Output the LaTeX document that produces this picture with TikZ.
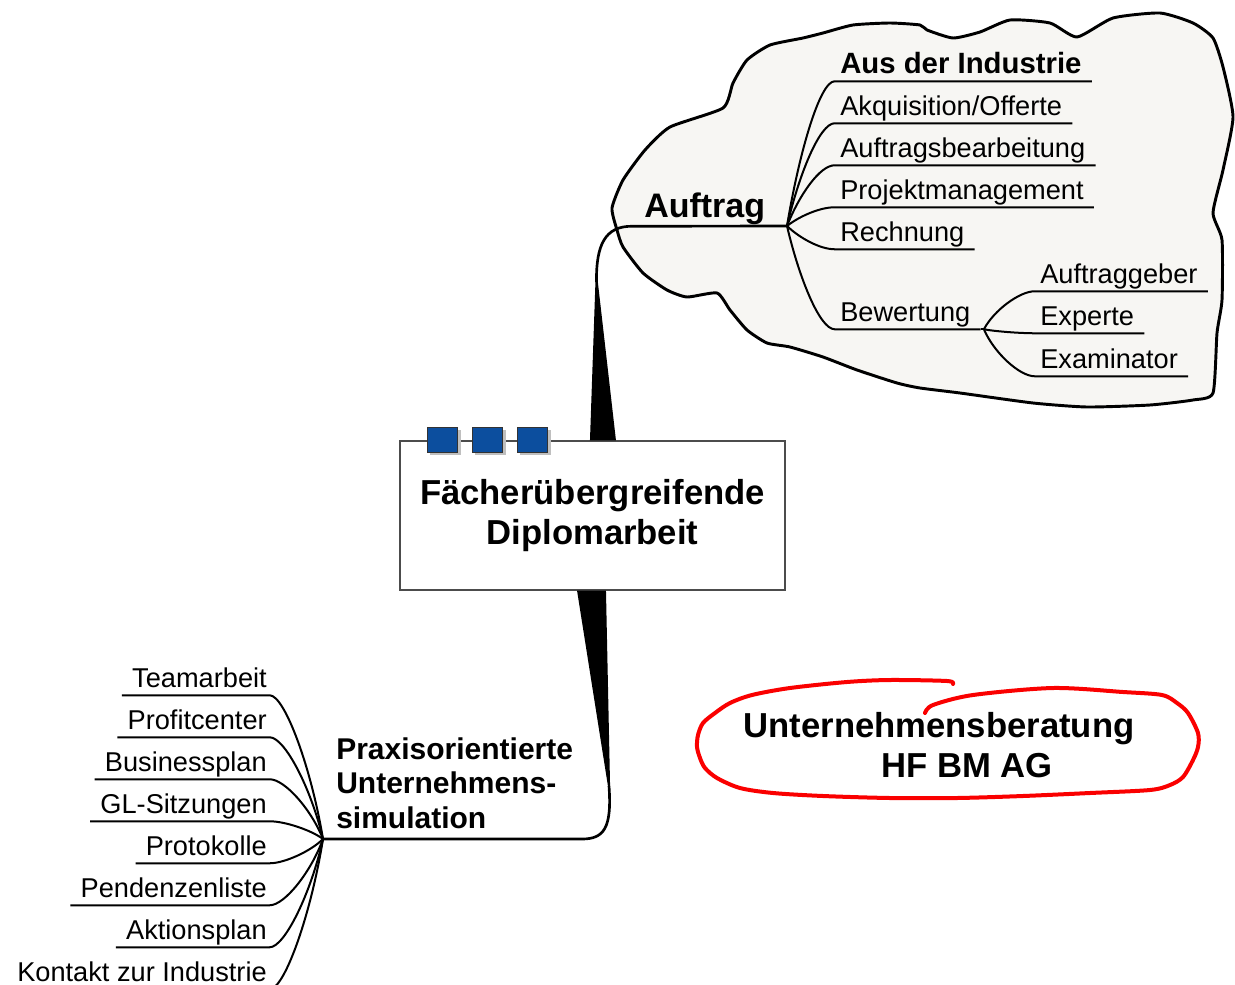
\documentclass[tikz,border=0pt]{standalone}
\usepackage{fontspec}
\setmainfont{Liberation Sans}
\usetikzlibrary{shadows}

\definecolor{cloudgray}{RGB}{247,246,243}
\definecolor{tabblue}{RGB}{12,78,158}
\definecolor{markred}{RGB}{250,0,0}

\tikzset{
  leaf/.style={inner sep=0pt, text depth=6pt, font=\fontsize{20.4}{24}\selectfont},
  branch/.style={line width=1.5pt},
  stem/.style={line width=2pt},
  tab/.style={draw=black!80, fill=tabblue, line width=0.6pt, minimum width=23pt,
    minimum height=18.75pt, inner sep=0pt,
    drop shadow={shadow xshift=2.2pt, shadow yshift=-2.2pt, fill=black!25, opacity=1}},
}

\begin{document}
\begin{tikzpicture}[x=0.75pt, y=-0.75pt]
\useasboundingbox (0,0) rectangle (1235,985);

% cloud around Auftrag
\filldraw[fill=cloudgray, line width=2.2pt, line join=round]
  plot[smooth cycle, tension=0.35] coordinates {
  (612,208) (623,180) (645,150) (670,127) (723,108) (733,83) (747,60) (770,45)
  (803,38) (823,33) (853,25) (890,23) (920,25) (927,30) (953,38) (980,32)
  (1010,20) (1050,23) (1077,37) (1113,18) (1160,13) (1193,23) (1213,38)
  (1223,67) (1233,117) (1223,170) (1213,213) (1222,240) (1222,300) (1217,333)
  (1213,393) (1193,400) (1150,405) (1087,407) (1033,403) (960,393) (920,388)
  (897,383) (857,370) (823,357) (790,347) (767,343) (747,330) (730,310)
  (717,293) (687,297) (667,290) (643,273) (623,247) (617,230)};

% central topic
\node[draw=black!70, fill=white, line width=0.8pt, minimum width=288.75pt,
  minimum height=111.75pt, align=center,
  font=\fontsize{26}{30}\selectfont\bfseries] (fdm) at (592.5,515.5)
  {Fächerübergreifende\\Diplomarbeit};
\node[tab] (tab1) at (442.5,440) {};
\node[tab] (tab2) at (487.5,440) {};
\node[tab] (tab3) at (532.5,440) {};

% Auftrag branch
\node[inner sep=0pt, text depth=6.75pt, anchor=base west,
  font=\fontsize{25.5}{30}\selectfont\bfseries] (auftrag) at (644,217) {Auftrag};
\coordinate (hubR) at (787,226);
\coordinate (up) at (596.5,282);
\fill ([xshift=-1.9pt]fdm.north) -- ([xshift=-0.8pt]up) -- ([xshift=1pt]up)
  -- ([xshift=17.6pt]fdm.north) -- cycle;
\draw[stem] (up) .. controls (596,245) and (605,226) .. ([xshift=-9pt]auftrag.south west) -- (hubR);

\node[leaf, anchor=base west, font=\fontsize{22}{26}\selectfont\bfseries] (aus) at (840,73) {Aus der Industrie};
\node[leaf, anchor=base west] (akq) at (840,115) {Akquisition/Offerte};
\node[leaf, anchor=base west] (abb) at (840,157) {Auftragsbearbeitung};
\node[leaf, anchor=base west] (pm) at (840,199) {Projektmanagement};
\node[leaf, anchor=base west] (rech) at (840,241) {Rechnung};
\node[leaf, anchor=base west] (bew) at (840,321) {Bewertung};
\foreach \n/\dy in {aus/-145, akq/-103, abb/-61, pm/-19, rech/23, bew/103}
  \draw[branch] (hubR) .. controls +(12,0.5*\dy) and +(-15,0) .. ([xshift=-4pt]\n.south west)
    -- ([xshift=7.5pt]\n.south east);

% Bewertung
\coordinate (hubB) at ([xshift=10pt]bew.south east);
\draw[branch] ([xshift=7.5pt]bew.south east) -- (hubB);
\node[leaf, anchor=base west] (ag) at (1040,283) {Auftraggeber};
\node[leaf, anchor=base west] (exp) at (1040,325) {Experte};
\node[leaf, anchor=base west] (exam) at (1040,368) {Examinator};
\foreach \n/\dy in {ag/-38, exp/4, exam/47}
  \draw[branch] (hubB) .. controls +(10,0.5*\dy) and +(-15,0) .. ([xshift=-4pt]\n.south west)
    -- ([xshift=7.5pt]\n.south east);

% Praxis branch
\node[inner sep=0pt, anchor=north west, align=left,
  font=\fontsize{22.5}{26}\selectfont\bfseries] (praxis) at (336,737)
  {Praxisorientierte\\Unternehmens-\\simulation};
\coordinate (hubL) at (323,839);
\coordinate (down) at (609,786);
\fill ([xshift=-11.6pt]fdm.south) -- ([xshift=-0.8pt]down) -- ([xshift=0.8pt]down)
  -- ([xshift=10.1pt]fdm.south) -- cycle;
\draw[stem] (down) .. controls (612,828) and (604,839) .. (582,839) -- (hubL);

\node[leaf, anchor=base east] (team) at (267,687) {Teamarbeit};
\node[leaf, anchor=base east] (prof) at (267,729) {Profitcenter};
\node[leaf, anchor=base east] (bus) at (267,771) {Businessplan};
\node[leaf, anchor=base east] (gl) at (267,813) {GL-Sitzungen};
\node[leaf, anchor=base east] (prot) at (267,855) {Protokolle};
\node[leaf, anchor=base east] (pend) at (267,897) {Pendenzenliste};
\node[leaf, anchor=base east] (akt) at (267,939) {Aktionsplan};
\node[leaf, anchor=base east] (kont) at (267,981) {Kontakt zur Industrie};
\foreach \n/\dy in {team/-144, prof/-102, bus/-60, gl/-18, prot/24, pend/66, akt/108, kont/150}
  \draw[branch] (hubL) .. controls +(-12,0.5*\dy) and +(15,0) .. ([xshift=2pt]\n.south east)
    -- ([xshift=-7.5pt]\n.south west);

% red mark
\node[align=center, font=\fontsize{26}{30}\selectfont\bfseries] (hfbm) at (939,745.5)
  {Unternehmensberatung\\\hspace*{42pt}HF BM AG};
\draw[markred, line width=3pt, line cap=round, line join=round]
  plot[smooth, tension=0.5] coordinates {
  (953,684) (947,681) (890,680) (847,682) (790,688) (752,695) (730,703)
  (715,713) (703,723) (698,735) (697,747) (700,758) (705,768) (717,778)
  (740,788) (773,793) (823,796) (890,798) (957,798) (1023,796) (1090,793)
  (1150,790) (1170,785) (1183,777) (1193,760) (1198,747) (1198,733)
  (1188,713) (1177,703) (1162,695) (1123,692) (1053,688) (973,695)
  (933,705) (925,713)};
\end{tikzpicture}
\end{document}
